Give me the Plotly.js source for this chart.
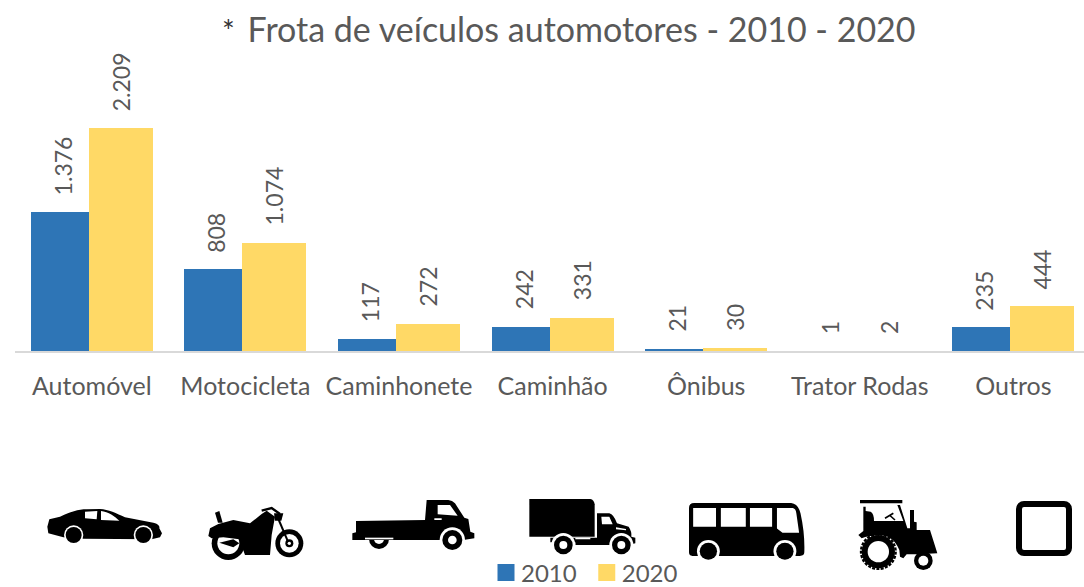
<!DOCTYPE html>
<html><head><meta charset="utf-8">
<script src="https://cdn.plot.ly/plotly-3.0.1.min.js"></script>
<style>html,body{margin:0;padding:0;background:#fff;overflow:hidden}</style>
</head><body><div id="chart" style="width:1084px;height:587px"></div>
<script>
const categories = ["Automóvel","Motocicleta","Caminhonete","Caminhão","Ônibus","Trator Rodas","Outros"];
const values2010 = [1376,808,117,242,21,1,235];
const values2020 = [2209,1074,272,331,30,2,444];
const seriesNames = ["2010","2020"];
const titleText = '<span style="font-size:30px;color:#333">*</span>\u2009 Frota de veículos automotores - 2010 - 2020';

const W=1084,H=587;
const FONT='Lato, Carlito, sans-serif';
const GREY='#595959';
const fmt=v=>String(v).replace(/\B(?=(\d{3})+$)/g,'.');

const icons=[
 {r:[40,500,130,50],vb:'0 0 390 150',b:`<path d="M28 58L60 50C90 36 115 28 140 28L180 27C205 28 230 40 255 52L340 68C355 72 360 78 358 85L366 100L360 112L335 118L130 116L70 112L25 100L22 80Z"/>
  <circle cx="101" cy="105" r="29" fill="#fff"/><circle cx="101" cy="105" r="24"/><circle cx="310" cy="105" r="29" fill="#fff"/><circle cx="310" cy="105" r="24"/>
  <path fill="#fff" d="M135 35L172 33L170 58L135 55ZM183 33C205 35 225 50 238 62L183 60Z"/>`},
 {r:[200,500,110,60],vb:'0 0 330 180',b:`<circle cx="85" cy="130" r="50"/><circle cx="85" cy="130" r="33" fill="#fff"/>
  <circle cx="268" cy="130" r="42"/><circle cx="268" cy="130" r="28" fill="#fff"/><circle cx="268" cy="130" r="12"/><circle cx="268" cy="130" r="5" fill="#fff"/>
  <path d="M25 108L30 85L55 72L100 60L150 70L185 42L200 32L225 50L215 105L210 165L135 165L118 118L70 112L35 115Z"/>
  <path d="M58 128L100 118L118 130L100 142Z"/><path d="M45 38L58 33L68 68L54 68Z"/>
  <path d="M185 32L215 24L240 42" fill="none" stroke="#000" stroke-width="7"/><path d="M230 45L264 125" fill="none" stroke="#000" stroke-width="6"/><path d="M222 40L250 40L244 62L225 62Z"/>`},
 {r:[345,495,135,60],vb:'0 0 405 180',b:`<circle cx="102" cy="132" r="30"/><circle cx="102" cy="132" r="15" fill="#fff"/>
  <path d="M33 78L240 75L245 15L310 15Q322 16 330 25L358 68L370 72L376 110L388 115L388 130L355 135L22 135L22 115L33 112Z"/>
  <path d="M60 133H145V128H60Z" fill="#fff"/>
  <path fill="#fff" d="M278 30L315 30L338 62L278 58ZM268 70L290 70L290 75L268 75Z"/>
  <circle cx="322" cy="135" r="38" fill="#fff"/><circle cx="322" cy="135" r="30"/><circle cx="322" cy="135" r="13" fill="#fff"/>`},
 {r:[522,495,120,60],vb:'0 0 360 180',b:`<path d="M22 12L205 12Q216 14 218 28L218 125L22 125Z"/>
  <path d="M85 128L225 128L225 55L262 55Q275 58 285 85L320 95Q330 110 328 125L340 128L340 145L320 150L160 150L160 142L85 142Z"/>
  <path fill="#fff" d="M238 65L262 65L272 88L240 88ZM160 128L205 128L205 133L160 133ZM282 97L312 102L312 106L282 103Z"/>
  <circle cx="124" cy="150" r="36" fill="#fff"/><circle cx="124" cy="150" r="28"/><circle cx="124" cy="150" r="12" fill="#fff"/>
  <circle cx="298" cy="150" r="36" fill="#fff"/><circle cx="298" cy="150" r="28"/><circle cx="298" cy="150" r="12" fill="#fff"/>`},
 {r:[689,503,116,57],vb:'430 40 335 168',b:`<path d="M445 40L725 40Q745 42 752 70Q765 130 763 185Q763 195 750 196L440 196Q430 195 430 185L430 55Q430 40 445 40Z"/>
  <path fill="#fff" d="M442 55H508V110H442ZM522 55H594V110H522ZM606 55H670V110H606ZM684 55L730 55Q738 57 740 70L748 128L700 128L684 115Z"/>
  <circle cx="486" cy="182" r="33" fill="#fff"/><circle cx="486" cy="182" r="25"/><circle cx="707" cy="182" r="33" fill="#fff"/><circle cx="707" cy="182" r="25"/>`},
 {r:[850,495,95,75],vb:'0 0 285 225',b:`<path d="M30 15H157V25H30Z"/>
  <path d="M40 35L47 35L47 48L62 50Q72 55 72 78L160 78L142 30L150 30L172 100L180 100L180 45L192 45L192 80L200 82L200 105L240 105L262 175L205 178L170 178L160 190L150 185L148 165Q130 120 85 120Q55 122 35 130L25 120L40 108Z"/>
  <path d="M105 70L130 55M118 60L135 75" fill="none" stroke="#000" stroke-width="5"/>
  <circle cx="85" cy="170" r="50"/><circle cx="85" cy="170" r="52" fill="none" stroke="#000" stroke-width="7" stroke-dasharray="9 4"/><circle cx="85" cy="170" r="32" fill="#fff"/>
  <circle cx="220" cy="197" r="28"/><circle cx="220" cy="197" r="15" fill="#fff"/>`},
 {r:[1016,501,56,55],vb:'0 0 56 55',b:`<rect x="3" y="3" width="50" height="49" rx="5" fill="#fff" stroke="#000" stroke-width="6"/>`}
];
const images=icons.map(ic=>({
  source:'data:image/svg+xml;utf8,'+encodeURIComponent(`<svg xmlns="http://www.w3.org/2000/svg" viewBox="${ic.vb}" width="${ic.r[2]}" height="${ic.r[3]}" preserveAspectRatio="none">${ic.b}</svg>`),
  xref:'paper',yref:'paper',layer:'above',sizing:'stretch',
  x:0,y:0,_r:ic.r
}));

const margin={l:15,r:0,t:48,b:236,autoexpand:false};
const pw=W-margin.l-margin.r,ph=H-margin.t-margin.b;
images.forEach(im=>{const r=im._r;delete im._r;
  im.x=(r[0]-margin.l)/pw;im.y=1-(r[1]-margin.t)/ph;im.sizex=r[2]/pw;im.sizey=r[3]/ph;im.xanchor='left';im.yanchor='top';});

const labelShift=[-29,29],labelGap=15;
const annotations=[];
[values2010,values2020].forEach((vals,s)=>vals.forEach((v,i)=>annotations.push({
  x:categories[i],y:v,xref:'x',yref:'y',text:fmt(v),showarrow:false,textangle:-90,
  xanchor:'center',yanchor:'bottom',xshift:labelShift[s],yshift:labelGap,
  font:{family:FONT,size:23,color:GREY}
})));

const unit=153.6;
const data=[
 {type:'bar',name:seriesNames[0],x:categories,y:values2010,width:58/unit,offset:-61/unit,marker:{color:'#2e75b6'},hoverinfo:'x+y'},
 {type:'bar',name:seriesNames[1],x:categories,y:values2020,width:64/unit,offset:-3/unit,marker:{color:'#ffd966'},hoverinfo:'x+y'}
];
const layout={
 width:W,height:H,margin,paper_bgcolor:'#fff',plot_bgcolor:'#fff',
 font:{family:FONT,color:GREY},
 title:{text:titleText,font:{family:FONT,size:34,color:GREY},x:561.5/W,xanchor:'center',xref:'paper',y:1-30/H,yanchor:'middle'},
 xaxis:{type:'category',range:[-0.5,(W-margin.l)/unit-0.5],showgrid:false,zeroline:false,showline:true,linecolor:'#d9d9d9',linewidth:2,ticks:'',
   tickfont:{family:FONT,size:25,color:GREY},ticklabelstandoff:12,automargin:false,fixedrange:true},
 yaxis:{range:[0,ph/(223/2209)],visible:false,fixedrange:true},
 showlegend:true,
 legend:{orientation:'h',x:(587-margin.l)/pw,xanchor:'center',y:1-(573-margin.t)/ph,yanchor:'middle',font:{family:FONT,size:24,color:GREY},bgcolor:'rgba(0,0,0,0)',traceorder:'normal',itemclick:false,itemdoubleclick:false},
 annotations,images,bargap:0
};
Plotly.newPlot('chart',data,layout,{displayModeBar:false,staticPlot:true}).then(()=>{
  document.querySelectorAll('.legend .legendbar path, .legend .legendpoints path').forEach(p=>p.setAttribute('d','M8.5,8.5H-8.5V-8.5H8.5Z'));
  document.querySelectorAll('.legend .legendtext').forEach(t=>t.setAttribute('x',parseFloat(t.getAttribute('x'))-5));
});
</script></body></html>
